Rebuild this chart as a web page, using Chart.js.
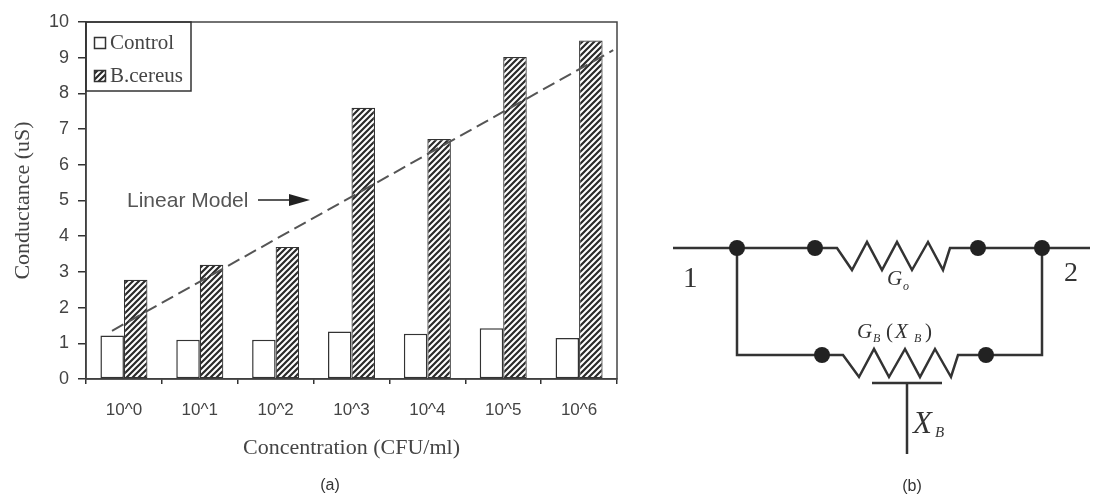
<!DOCTYPE html>
<html>
<head>
<meta charset="utf-8">
<script src="https://cdn.jsdelivr.net/npm/chart.js@4/dist/chart.umd.min.js"></script>
<style>
html, body { margin: 0; padding: 0; background: #fff; }
.wrap { position: absolute; }
#barWrap, #modelWrap { left: 0; top: 0; width: 650px; height: 494px; }
#circuitWrap { left: 660px; top: 230px; width: 435px; height: 264px; }
</style>
</head>
<body>
<div id="barWrap" class="wrap"><canvas id="barChart"></canvas></div>
<div id="modelWrap" class="wrap"><canvas id="modelChart"></canvas></div>
<div id="circuitWrap" class="wrap"><canvas id="circuitChart"></canvas></div>
<script>
var categories = ['10^0', '10^1', '10^2', '10^3', '10^4', '10^5', '10^6'];
var controlValues = [1.22, 1.1, 1.1, 1.33, 1.27, 1.42, 1.15];
var cereusValues = [2.78, 3.2, 3.7, 7.6, 6.72, 9.02, 9.48];
var yTicks = [0, 1, 2, 3, 4, 5, 6, 7, 8, 9, 10];
// position along the category axis (0 = first group), the line overshoots both ends
var modelX = [-0.157, 6.45];
var modelY = [1.35, 9.21];

// circuit, in the diagram's own units
var topWire = [[673, 248], [837, 248], [852, 270], [867, 242], [882, 270], [897, 242], [912, 270], [928, 242], [943, 270], [950, 248], [1090, 248]];
var loopWire = [[737, 248], [737, 355], [843, 355], [859, 377], [874, 349], [889, 377], [905, 349], [920, 377], [935, 349], [951, 377], [958, 355], [1042, 355], [1042, 248]];
var gateBar = [[872, 383], [942, 383]];
var gateStem = [[907, 383], [907, 454]];
var nodes = [[737, 248], [815, 248], [978, 248], [1042, 248], [822, 355], [986, 355]];

function hatch() {
    var c = document.createElement('canvas');
    c.width = 6;
    c.height = 6;
    var g = c.getContext('2d');
    g.fillStyle = '#fff';
    g.fillRect(0, 0, 6, 6);
    g.strokeStyle = '#2a2a2a';
    g.lineWidth = 2.2;
    g.beginPath();
    g.moveTo(-1, 7); g.lineTo(7, -1);
    g.moveTo(-1, 1); g.lineTo(1, -1);
    g.moveTo(5, 7); g.lineTo(7, 5);
    g.stroke();
    return g.createPattern(c, 'repeat');
}

function toPairs(xs, ys) {
    return xs.map(function(x, i) { return { x: x, y: ys[i] }; });
}
function fromList(list) {
    return list.map(function(p) { return { x: p[0], y: p[1] }; });
}

var notes = {
    id: 'notes',
    afterDraw: function(chart) {
        var ctx = chart.ctx;
        var a = chart.chartArea;
        ctx.save();
        ctx.strokeStyle = '#444';
        ctx.lineWidth = 1.5;
        ctx.strokeRect(a.left, a.top, a.right - a.left, a.bottom - a.top);

        // legend box in the top left corner
        ctx.strokeStyle = '#333';
        ctx.strokeRect(a.left, a.top, 105, 69);
        ctx.textBaseline = 'middle';
        ctx.font = '21px "Liberation Serif"';
        chart.data.datasets.forEach(function(ds, i) {
            var rowY = 43 + i * 33;
            ctx.fillStyle = ds.backgroundColor;
            ctx.fillRect(94.5, rowY - 5.5, 11, 11);
            ctx.strokeStyle = '#333';
            ctx.strokeRect(94.5, rowY - 5.5, 11, 11);
            ctx.fillStyle = '#444';
            ctx.fillText(ds.label, 110, rowY);
        });

        ctx.fillStyle = '#555';
        ctx.font = '21px "Liberation Sans"';
        ctx.fillText('Linear Model', 127, 201);
        ctx.strokeStyle = '#222';
        ctx.beginPath();
        ctx.moveTo(258, 200);
        ctx.lineTo(292, 200);
        ctx.stroke();
        ctx.fillStyle = '#222';
        ctx.beginPath();
        ctx.moveTo(310, 200);
        ctx.lineTo(289, 194);
        ctx.lineTo(289, 206);
        ctx.closePath();
        ctx.fill();

        ctx.fillStyle = '#333';
        ctx.font = '16px "Liberation Sans"';
        ctx.textAlign = 'center';
        ctx.fillText('(a)', 330, 486);
        ctx.restore();
    }
};

var circuitText = {
    id: 'circuitText',
    afterDraw: function(chart) {
        var ctx = chart.ctx;
        var x = chart.scales.x, y = chart.scales.y;
        function put(text, px, py, font, color) {
            ctx.font = font;
            ctx.fillStyle = color || '#333';
            ctx.fillText(text, x.getPixelForValue(px), y.getPixelForValue(py));
        }
        ctx.save();
        ctx.textBaseline = 'middle';
        ctx.textAlign = 'left';
        var serif = '"Liberation Serif"';
        put('1', 683, 279, '29px ' + serif);
        put('2', 1064, 274, '28px ' + serif);
        put('G', 887, 279, 'italic 21px ' + serif);
        put('o', 903, 287, 'italic 12px ' + serif);
        put('G', 857, 332, 'italic 21px ' + serif);
        put('B', 873, 339, 'italic 12px ' + serif);
        put('(', 886, 332, '21px ' + serif);
        put('X', 895, 332, 'italic 21px ' + serif);
        put('B', 914, 339, 'italic 12px ' + serif);
        put(')', 925, 332, '21px ' + serif);
        put('X', 913, 425, 'italic 31px ' + serif);
        put('B', 935, 433, 'italic 15px ' + serif);
        ctx.textAlign = 'center';
        put('(b)', 912, 487, '16px "Liberation Sans"');
        ctx.restore();
    }
};

new Chart(document.getElementById('barChart'), {
    type: 'bar',
    data: {
        labels: categories,
        datasets: [{
            label: 'Control',
            data: controlValues,
            backgroundColor: '#fff',
            borderColor: '#333',
            borderWidth: 1.5,
            borderSkipped: false
        }, {
            label: 'B.cereus',
            data: cereusValues,
            backgroundColor: hatch(),
            borderColor: '#333',
            borderWidth: 1.2,
            borderSkipped: false
        }]
    },
    options: {
        responsive: true,
        maintainAspectRatio: false,
        animation: false,
        layout: { padding: { left: 10, top: 22, right: 33, bottom: 33 } },
        datasets: { bar: { categoryPercentage: 0.62, barPercentage: 1 } },
        plugins: {
            legend: { display: false },
            tooltip: { enabled: false }
        },
        scales: {
            x: {
                grid: { drawOnChartArea: false, color: '#333', tickLength: 5, lineWidth: 1.5 },
                border: { color: '#333', width: 1.5 },
                ticks: { color: '#444', padding: 16, maxRotation: 0, font: { family: '"Liberation Sans"', size: 17 } },
                title: {
                    display: true,
                    text: 'Concentration (CFU/ml)',
                    color: '#444',
                    padding: 0,
                    font: { family: '"Liberation Serif"', size: 22 }
                },
                afterFit: function(scale) { scale.height = 82; }
            },
            y: {
                min: 0,
                max: 10,
                grid: { drawOnChartArea: false, color: '#333', tickLength: 8, lineWidth: 1.5 },
                border: { color: '#333', width: 1.5 },
                ticks: {
                    color: '#444',
                    padding: 9,
                    stepSize: 1,
                    font: { family: '"Liberation Sans"', size: 18 },
                    callback: function(v, i) { return yTicks[i]; }
                },
                title: {
                    display: true,
                    text: 'Conductance (uS)',
                    color: '#444',
                    padding: 0,
                    font: { family: '"Liberation Serif"', size: 22 }
                },
                afterFit: function(scale) { scale.width = 76; }
            }
        }
    },
    plugins: [notes]
});

// dashed model line sits on its own numeric x scale over the bars
new Chart(document.getElementById('modelChart'), {
    type: 'scatter',
    data: {
        datasets: [{
            label: 'Linear Model',
            data: toPairs(modelX, modelY),
            showLine: true,
            borderColor: '#555',
            borderWidth: 2,
            borderDash: [13, 6],
            pointRadius: 0
        }]
    },
    options: {
        responsive: true,
        maintainAspectRatio: false,
        animation: false,
        layout: { autoPadding: false, padding: { left: 86, top: 22, right: 33, bottom: 115 } },
        plugins: { legend: { display: false }, tooltip: { enabled: false } },
        scales: {
            x: { type: 'linear', display: false, min: -0.5, max: 6.5 },
            y: { type: 'linear', display: false, min: 0, max: 10 }
        }
    }
});

function wire(list) {
    return { data: fromList(list), showLine: true, borderColor: '#333', borderWidth: 2.5, pointRadius: 0, fill: false, order: 2 };
}

new Chart(document.getElementById('circuitChart'), {
    type: 'scatter',
    data: {
        datasets: [
            wire(topWire),
            wire(loopWire),
            wire(gateBar),
            wire(gateStem),
            { data: fromList(nodes), pointRadius: 8, pointBackgroundColor: '#222', pointBorderWidth: 0, order: 1 }
        ]
    },
    options: {
        responsive: true,
        maintainAspectRatio: false,
        animation: false,
        layout: { autoPadding: false, padding: 0 },
        plugins: { legend: { display: false }, tooltip: { enabled: false } },
        scales: {
            x: { type: 'linear', display: false, min: 660, max: 1095 },
            y: { type: 'linear', display: false, min: 230, max: 494, reverse: true }
        }
    },
    plugins: [circuitText]
});
</script>
</body>
</html>
